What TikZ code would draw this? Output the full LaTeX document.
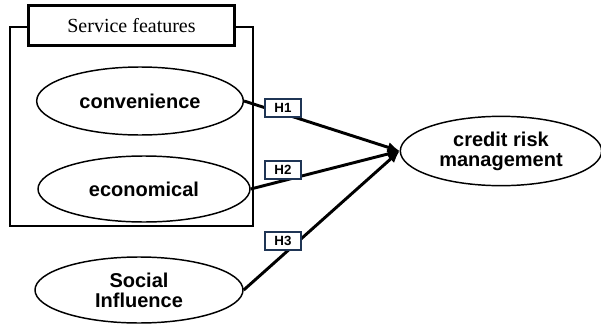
\documentclass[tikz,border=0pt]{standalone}
\usepackage{fontspec}
\setmainfont{Liberation Serif}
\setsansfont{Liberation Sans}
\usepackage{tikz}
\usetikzlibrary{shapes.geometric}
\usetikzlibrary{arrows.meta}
\tikzset{>=latex}
\definecolor{hypblue}{HTML}{1F3555}
\tikzstyle{construct}=[ellipse,draw=black,line width=1.1pt,inner sep=0pt,align=center,font=\sffamily\bfseries\fontsize{15}{15}\selectfont]
\tikzstyle{hyp}=[draw=hypblue,line width=1.5pt,fill=white,inner sep=0pt,minimum width=27pt,minimum height=13.5pt,font=\sffamily\bfseries\fontsize{10}{10}\selectfont]
\tikzstyle{path}=[line width=2.2pt,-{Latex[length=9pt,width=8pt]}]

\begin{document}
\begin{tikzpicture}[x=0.75pt,y=-0.75pt]
	
	\useasboundingbox (0,0) rectangle (601,325);
	
	\draw[line width=2.2pt] (10,27) rectangle (253,226); % group frame
	\node[draw,line width=2.2pt,fill=white,minimum width=155pt,minimum height=30.5pt,
	  font=\fontsize{15}{15}\selectfont] (sf) at (131.5,25.5) {Service features};
	
	\node[construct,minimum width=155pt,minimum height=51pt] (conv) at (140,101) {convenience};
	\node[construct,minimum width=159pt,minimum height=49.5pt] (econ) at (144,189) {economical};
	\node[construct,minimum width=156pt,minimum height=49.5pt] (soc) at (139,290) {Social\\Influence};
	\node[construct,minimum width=151pt,minimum height=52pt] (crm) at (501,151) {credit risk\\management};
	
	\draw[path] (conv.east) -- (crm.west);
	\draw[path] (econ.east) -- (crm.west);
	\draw[path] (soc.east) -- (crm.west);
	
	\node[hyp] (h1) at (283,108) {H1};
	\node[hyp] (h2) at (283,170) {H2};
	\node[hyp] (h3) at (283,241) {H3};
	
\end{tikzpicture}
\end{document}
